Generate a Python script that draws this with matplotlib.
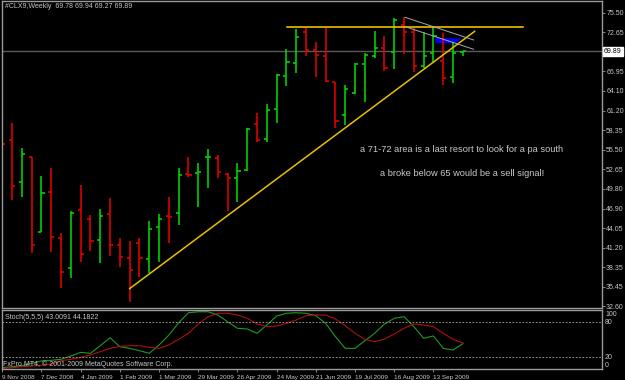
import matplotlib
matplotlib.use('Agg')
import matplotlib.pyplot as plt
from matplotlib.patches import Polygon

# ---------------- data ----------------
opens = [61.0, 56.97, 50.83, 54.39, 43.52, 49.36, 42.55, 38.25, 46.69, 45.37, 42.26, 46.06,
         41.57, 39.63, 41.91, 39.52, 44.25, 45.75, 46.21, 52.00, 52.05, 54.44, 54.25, 51.99,
         51.32, 52.54, 59.31, 57.02, 61.41, 66.28, 68.18, 72.76, 70.04, 69.25, 65.45, 60.58,
         63.75, 67.99, 69.20, 70.33, 69.74, 73.69, 72.67, 67.78, 69.60, 68.47, 66.09, 69.78]
highs = [65.45, 59.36, 55.71, 54.39, 51.66, 52.78, 43.28, 46.54, 50.34, 45.96, 46.83, 48.49,
         42.55, 42.16, 42.55, 45.08, 46.06, 48.63, 52.78, 54.48, 53.52, 55.61, 54.73, 52.14,
         53.52, 58.63, 60.83, 62.14, 66.53, 70.18, 73.15, 73.34, 71.21, 73.34, 65.45, 64.96,
         68.14, 69.60, 72.86, 72.13, 74.71, 74.86, 73.25, 72.76, 73.49, 72.52, 71.21, 69.94]
lows = [54.49, 48.15, 48.63, 40.36, 43.52, 40.59, 35.33, 36.70, 39.13, 40.69, 38.90, 40.01,
        38.40, 33.28, 36.94, 37.43, 39.13, 41.91, 44.49, 51.56, 47.08, 49.95, 51.32, 46.54,
        47.81, 52.43, 56.67, 56.59, 59.36, 64.86, 66.67, 69.25, 66.18, 65.36, 58.63, 59.12,
        63.60, 62.52, 68.95, 67.05, 67.30, 69.50, 66.91, 67.40, 68.37, 64.96, 65.30, 69.27]
closes = [56.29, 50.24, 54.83, 41.57, 49.13, 42.78, 37.67, 46.21, 40.21, 42.16, 45.85, 41.57,
          39.86, 37.92, 39.63, 43.91, 45.37, 45.60, 51.81, 51.85, 52.29, 54.50, 52.20, 51.41,
          52.43, 58.53, 56.92, 61.35, 66.38, 68.37, 72.02, 70.08, 69.35, 65.55, 59.70, 64.33,
          67.99, 69.35, 70.33, 67.49, 74.47, 72.76, 67.74, 69.20, 72.13, 66.03, 69.60, 69.89]

stoch_k = [2.2, 3.9, 5.6, 9.6, 13.6, 14.7, 16.4, 22.0, 28.2, 26.6, 39.5, 53.0,
           37.8, 35.0, 31.0, 26.6, 40.7, 57.6, 78.5, 95.4, 97.0, 97.0, 91.5, 80.0,
           69.0, 67.8, 60.5, 74.6, 89.8, 94.4, 95.4, 94.4, 90.4, 77.4, 54.8, 35.0,
           35.0, 48.0, 60.5, 76.3, 85.9, 88.7, 71.8, 52.0, 56.0, 35.0, 32.2, 43.0]
stoch_d = [1.1, 2.2, 3.9, 5.0, 6.2, 8.5, 14.1, 16.4, 19.8, 23.7, 29.4, 35.0,
           38.4, 39.5, 39.5, 36.7, 35.0, 40.7, 50.3, 60.5, 76.3, 88.7, 94.4, 94.4,
           91.5, 85.9, 76.3, 71.8, 72.9, 77.4, 83.0, 90.4, 91.5, 91.5, 84.7, 73.4,
           60.5, 50.3, 46.3, 50.8, 59.3, 69.0, 76.3, 74.6, 71.8, 60.5, 50.3, 44.2]

date_labels = ['9 Nov 2008', '7 Dec 2008', '4 Jan 2009', '1 Feb 2009', '1 Mar 2009',
               '29 Mar 2009', '26 Apr 2009', '24 May 2009', '21 Jun 2009', '19 Jul 2009',
               '16 Aug 2009', '13 Sep 2009']
date_bars = [0, 4, 8, 12, 16, 20, 24, 28, 32, 36, 40, 44]
price_ticks = [75.50, 72.65, 66.95, 64.10, 61.20, 58.35, 55.50, 52.65, 49.80, 46.90,
               44.05, 41.20, 38.35, 35.45, 32.60]
last_price = 69.89

# trend lines (bar index, price)
up_line = ([13, 48.2], [35.2, 72.8])
resist_line = ([29.1, 53.1], [73.4, 73.4])
gray_upper = ([41.1, 48.1], [74.86, 71.54])
gray_lower = ([41.1, 48.1], [73.49, 70.18])
blue_zone = [(44.2, 71.9), (46.9, 71.7), (46.3, 71.1), (44.2, 71.1)]

# ---------------- figure ----------------
W, H = 625, 380
fig = plt.figure(figsize=(W / 100, H / 100), dpi=100, facecolor='black')
plt.rcParams['font.family'] = ['Liberation Sans', 'DejaVu Sans']


def px(x0, y0, x1, y1):
    return [x0 / W, 1 - y1 / H, (x1 - x0) / W, (y1 - y0) / H]


BORDER = '#9a9a9a'
TXT = '#c8c8c8'
UP = '#00e000'
DN = '#ee0000'

ax = fig.add_axes(px(2, 1, 602, 308), facecolor='black')
ax2 = fig.add_axes(px(2, 310, 602, 369), facecolor='black')

xmax = 61.2
ax.set_xlim(-0.03, xmax)
ax.set_ylim(32.36, 77.24)
ax2.set_xlim(-0.03, xmax)
ax2.set_ylim(0, 100)

for a in (ax, ax2):
    for s in a.spines.values():
        s.set_color(BORDER)
        s.set_linewidth(1.0)
    a.tick_params(colors=BORDER, labelcolor=TXT)

# price bars
tw = 0.32
for i, (o, h, l, c) in enumerate(zip(opens, highs, lows, closes)):
    col = UP if c >= o else DN
    ax.vlines(i, l, h, color=col, lw=1.1)
    ax.hlines(o, i - tw, i, color=col, lw=1.1)
    ax.hlines(c, i, i + tw, color=col, lw=1.1)

# current price line
ax.axhline(last_price, color='#5a5a5a', lw=1.0, zorder=0)

# drawn objects
ax.add_patch(Polygon(blue_zone, closed=True, color='#0000ff', lw=0, zorder=1))
ax.plot(*up_line, color='#e8c000', lw=1.1)
ax.plot(*resist_line, color='#ffd000', lw=1.1)
ax.plot(*gray_upper, color='#a8a8a8', lw=0.7)
ax.plot(*gray_lower, color='#a8a8a8', lw=0.7)

# right price axis
ax.yaxis.tick_right()
ax.set_yticks(price_ticks)
ax.set_yticklabels([f'{t:.2f}' for t in price_ticks], fontsize=5)
ax.tick_params(axis='y', length=2, width=0.6, pad=1)
ax.set_xticks([])
ax.text(1.003, last_price, f'{last_price:.2f}', transform=ax.get_yaxis_transform(),
        fontsize=5, color='black', va='center', ha='left',
        bbox=dict(boxstyle='square,pad=0.15', fc='white', ec='white'))

# header & notes
fig.text(5 / W, 1 - 7 / H, '#CLX9,Weekly  69.78 69.94 69.27 69.89', fontsize=5,
         color=TXT, va='center', ha='left')
fig.text(360 / W, 1 - 149 / H, 'a 71-72 area is a last resort to look for a pa south',
         fontsize=6.7, color=TXT, va='center', ha='left')
fig.text(380 / W, 1 - 174 / H, 'a broke below 65 would be a sell signal!',
         fontsize=6.7, color=TXT, va='center', ha='left')

# stochastic panel
xs = list(range(len(stoch_k)))
ax2.plot(xs, stoch_k, color='#1f9a1f', lw=0.8)
ax2.plot(xs, stoch_d, color='#b01010', lw=0.8)
for lv in (20, 80):
    ax2.axhline(lv, color='#b0b0b0', lw=0.6, ls=(0, (2, 2)))
ax2.yaxis.tick_right()
ax2.set_yticks([])
for val, ypx in ((100, 314.7), (80, 322.3), (20, 357.3), (0, 365.3)):
    fig.text(605 / W, 1 - ypx / H, str(val), fontsize=5, color=TXT, va='center', ha='left')
ax2.text(0.005, 0.88, 'Stoch(5,5,5) 43.0091 44.1822', transform=ax2.transAxes,
         fontsize=5, color=TXT, va='center', ha='left')
ax2.text(0.002, 0.09, 'FxPro MT4, \u00a9 2001-2009 MetaQuotes Software Corp.',
         transform=ax2.transAxes, fontsize=5, color=TXT, va='center', ha='left')

# date axis
ax2.set_xticks(date_bars)
ax2.set_xticklabels([''] * len(date_bars))
ax2.tick_params(axis='x', length=2, width=0.6, direction='out')
for b, lab in zip(date_bars, date_labels):
    ax2.text(b, -0.105, lab, transform=ax2.get_xaxis_transform(), fontsize=4.6,
             color=TXT, ha='left', va='top', clip_on=False)

fig.savefig('out.png', dpi=100, facecolor='black')
